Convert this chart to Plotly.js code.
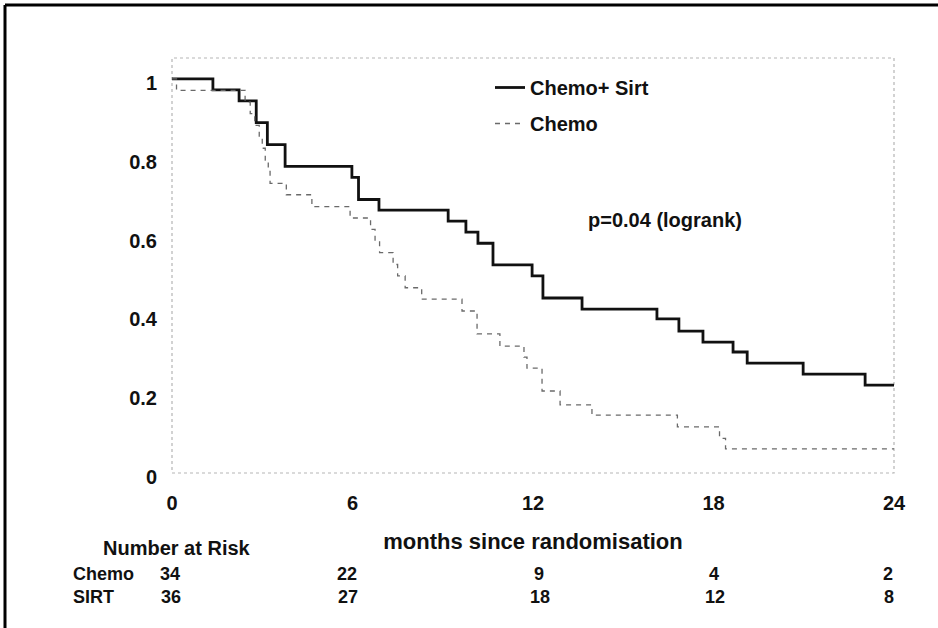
<!DOCTYPE html>
<html>
<head>
<meta charset="utf-8">
<script src="https://cdn.plot.ly/plotly-3.0.1.min.js"></script>
<style>
  html, body { margin: 0; padding: 0; background: #ffffff; }
  #chart { width: 938px; height: 628px; }
</style>
</head>
<body>
<div id="chart"></div>
<script>
// ---- Data ----
var sirtName = "Chemo+ Sirt";
var chemoName = "Chemo";

// Kaplan-Meier step points: time (months) and survival proportion
var sirtTimes = [0, 1.36, 2.23, 2.8, 3.17, 3.76, 5.98, 6.2, 6.88, 9.18, 9.77, 10.17, 10.67, 11.97, 12.33, 13.63, 16.12, 16.85, 17.65, 18.65, 19.12, 20.98, 23.04, 24];
var sirtSurv  = [1.0, 0.972, 0.944, 0.889, 0.833, 0.778, 0.750, 0.694, 0.667, 0.639, 0.611, 0.583, 0.528, 0.500, 0.444, 0.416, 0.391, 0.360, 0.332, 0.307, 0.279, 0.251, 0.223, 0.223];

var chemoTimes = [0, 0.15, 2.43, 2.6, 2.75, 2.9, 3.0, 3.1, 3.2, 3.26, 3.8, 4.65, 5.92, 6.6, 6.75, 6.9, 7.35, 7.5, 7.75, 8.3, 9.64, 10.14, 10.9, 11.7, 11.8, 12.3, 12.9, 13.96, 16.8, 18.2, 18.4, 24];
var chemoSurv  = [1.0, 0.971, 0.941, 0.912, 0.882, 0.853, 0.824, 0.794, 0.765, 0.735, 0.706, 0.676, 0.647, 0.618, 0.588, 0.559, 0.529, 0.500, 0.470, 0.441, 0.411, 0.353, 0.322, 0.294, 0.266, 0.208, 0.173, 0.147, 0.117, 0.088, 0.061, 0.061];

// Axis ticks
var xTickVals = [0, 6, 12, 18, 24];
var xTickText = ["0", "6", "12", "18", "24"];
var yTickVals = [0, 0.2, 0.4, 0.6, 0.8, 1];
var yTickText = ["0", "0.2", "0.4", "0.6", "0.8", "1"];

// Number at risk table
var riskTimes = [0, 6, 12, 18, 24];
var riskChemo = [34, 22, 9, 4, 2];
var riskSirt  = [36, 27, 18, 12, 8];
var riskShift = [-2, -6, 6, 0, -6];

var pText = "p=0.04 (logrank)";
var xTitle = "months since randomisation";
var riskTitle = "Number at Risk";

// ---- Plot ----
var FONT = "Liberation Sans, Arial, Helvetica, sans-serif";

var traces = [
  {
    x: sirtTimes, y: sirtSurv, name: sirtName, type: "scatter", mode: "lines",
    line: { shape: "hv", color: "#111111", width: 2.8 },
    legendgroup: "a"
  },
  {
    x: chemoTimes, y: chemoSurv, name: chemoName, type: "scatter", mode: "lines",
    line: { shape: "hv", color: "#6a6a6a", width: 1.3, dash: "5px,5px" },
    legendgroup: "b"
  }
];

var L = 172, R = 894, T = 58, B = 473, W = 938, H = 628;
function px2paperX(p) { return (p - L) / (R - L); }
function px2paperY(p) { return (B - p) / (B - T); }

var annotations = [];
annotations.push({
  xref: "x", yref: "y", x: 16.4, y: 0.642, text: pText, showarrow: false,
  xanchor: "center", yanchor: "middle",
  font: { family: FONT, size: 20, color: "#111", weight: "bold" }
});
annotations.push({
  xref: "paper", yref: "paper", x: px2paperX(177), y: px2paperY(548), text: riskTitle,
  showarrow: false, xanchor: "center", yanchor: "middle",
  font: { family: FONT, size: 20, color: "#111", weight: "bold" }
});
annotations.push({
  xref: "paper", yref: "paper", x: px2paperX(71), y: px2paperY(574), text: chemoName,
  showarrow: false, xanchor: "left", yanchor: "middle",
  font: { family: FONT, size: 18, color: "#111", weight: "bold" }
});
annotations.push({
  xref: "paper", yref: "paper", x: px2paperX(71), y: px2paperY(597), text: "SIRT",
  showarrow: false, xanchor: "left", yanchor: "middle",
  font: { family: FONT, size: 18, color: "#111", weight: "bold" }
});
for (var i = 0; i < riskTimes.length; i++) {
  annotations.push({
    xref: "x", yref: "paper", x: riskTimes[i], y: px2paperY(574), xshift: riskShift[i],
    text: String(riskChemo[i]), showarrow: false, xanchor: "center", yanchor: "middle",
    font: { family: FONT, size: 18, color: "#111", weight: "bold" }
  });
  annotations.push({
    xref: "x", yref: "paper", x: riskTimes[i], y: px2paperY(597), xshift: riskShift[i] + 1,
    text: String(riskSirt[i]), showarrow: false, xanchor: "center", yanchor: "middle",
    font: { family: FONT, size: 18, color: "#111", weight: "bold" }
  });
}

var shapes = [
  // dotted light-grey plot frame
  { type: "rect", xref: "paper", yref: "paper", x0: 0, x1: 1, y0: 0, y1: 1,
    line: { color: "#b5b5b5", width: 1.2, dash: "dot" }, layer: "below" },
  // black outer border (top and left)
  { type: "line", xref: "paper", yref: "paper", x0: px2paperX(5), x1: px2paperX(W + 10),
    y0: px2paperY(5), y1: px2paperY(5), line: { color: "#000", width: 3 } },
  { type: "line", xref: "paper", yref: "paper", x0: px2paperX(5), x1: px2paperX(5),
    y0: px2paperY(5), y1: px2paperY(H + 10), line: { color: "#000", width: 3 } }
];

var layout = {
  width: W, height: H,
  margin: { l: L, r: W - R, t: T, b: H - B, pad: 0 },
  paper_bgcolor: "#ffffff", plot_bgcolor: "#ffffff",
  font: { family: FONT, color: "#111" },
  showlegend: true,
  legend: {
    x: px2paperX(490), y: px2paperY(68), xanchor: "left", yanchor: "top",
    bgcolor: "rgba(0,0,0,0)", borderwidth: 0,
    traceorder: "grouped", tracegroupgap: 7,
    font: { family: FONT, size: 20, color: "#111", weight: "bold" }
  },
  xaxis: {
    range: [0, 24], tickvals: xTickVals, ticktext: xTickText,
    showgrid: false, zeroline: false, showline: false, ticks: "",
    ticklabelstandoff: 16,
    tickfont: { family: FONT, size: 20, color: "#111", weight: "bold" },
    title: { text: xTitle, standoff: 20,
      font: { family: FONT, size: 22, color: "#111", weight: "bold" } },
    fixedrange: true
  },
  yaxis: {
    range: [0, 1.053], tickvals: yTickVals, ticktext: yTickText,
    showgrid: false, zeroline: false, showline: false, ticks: "",
    ticklabelstandoff: 14, ticklabelshift: 4,
    tickfont: { family: FONT, size: 20, color: "#111", weight: "bold" },
    fixedrange: true
  },
  annotations: annotations,
  shapes: shapes
};

Plotly.newPlot("chart", traces, layout, { displayModeBar: false, staticPlot: true });
</script>
</body>
</html>
